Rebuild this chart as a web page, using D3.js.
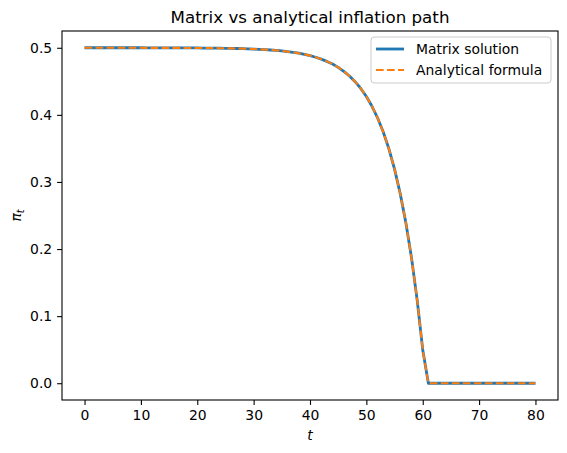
<!DOCTYPE html>
<meta charset="utf-8">
<style>
  body { margin: 0; padding: 0; background: #fff; }
  svg text { font-family: 'DejaVu Sans', sans-serif; fill: #000; }
  .axis text { font-size: 13.9px; }
  .axis path, .axis line { stroke: #000; stroke-width: 1.1px; }
</style>
<body>
<svg id="chart" width="567" height="453"></svg>
<script src="https://d3js.org/d3.v7.min.js"></script>
<script>

// time periods 0..80
var tValues = d3.range(0, 81);

// inflation path (t = 0 .. 80)
var matrixSolution = [
  0.5000, 0.5000, 0.5000, 0.5000, 0.5000, 0.5000, 0.5000, 0.5000, 0.5000, 0.5000,
  0.5000, 0.4999, 0.4999, 0.4999, 0.4999, 0.4999, 0.4998, 0.4998, 0.4997, 0.4997,
  0.4997, 0.4996, 0.4996, 0.4995, 0.4994, 0.4992, 0.4991, 0.4989, 0.4987, 0.4984,
  0.4981, 0.4977, 0.4973, 0.4967, 0.4961, 0.4953, 0.4943, 0.4932, 0.4919, 0.4902,
  0.4883, 0.4859, 0.4831, 0.4797, 0.4757, 0.4708, 0.4649, 0.4579, 0.4495, 0.4394,
  0.4273, 0.4128, 0.3953, 0.3744, 0.3493, 0.3192, 0.2830, 0.2396, 0.1875, 0.1250,
  0.0500, 0.0000, 0.0000, 0.0000, 0.0000, 0.0000, 0.0000, 0.0000, 0.0000, 0.0000,
  0.0000, 0.0000, 0.0000, 0.0000, 0.0000, 0.0000, 0.0000, 0.0000, 0.0000, 0.0000,
  0.0000
];
var analyticalFormula = matrixSolution.slice();

var xTicks = [0, 10, 20, 30, 40, 50, 60, 70, 80];
var yTicks = [0.0, 0.1, 0.2, 0.3, 0.4, 0.5];
var seriesNames = ["Matrix solution", "Analytical formula"];

var margin = {top: 31, right: 9, bottom: 53, left: 62};
var width = 567 - margin.left - margin.right;
var height = 453 - margin.top - margin.bottom;

var svg = d3.select("#chart");
var g = svg.append("g")
    .attr("transform", "translate(" + margin.left + "," + margin.top + ")");

var x = d3.scaleLinear().domain([-4, 84]).range([0, width]);
var y = d3.scaleLinear().domain([-0.025, 0.525]).range([height, 0]);

var xAxis = d3.axisBottom(x).tickValues(xTicks).tickSize(4.9).tickPadding(4.9)
    .tickFormat(d3.format("d"));
var yAxis = d3.axisLeft(y).tickValues(yTicks).tickSize(4.9).tickPadding(4.9)
    .tickFormat(d3.format(".1f"));

g.append("g").attr("class", "axis")
    .attr("transform", "translate(0," + height + ")")
    .call(xAxis)
    .call(function (s) { s.select(".domain").remove(); });
g.append("g").attr("class", "axis")
    .call(yAxis)
    .call(function (s) { s.select(".domain").remove(); });

var line = d3.line()
    .x(function (d, i) { return x(tValues[i]); })
    .y(function (d) { return y(d); });

g.append("path")
    .datum(matrixSolution)
    .attr("fill", "none")
    .attr("stroke", "#1f77b4")
    .attr("stroke-width", 2.8)
    .attr("stroke-linejoin", "round")
    .attr("d", line);

g.append("path")
    .datum(analyticalFormula)
    .attr("fill", "none")
    .attr("stroke", "#ff7f0e")
    .attr("stroke-width", 2.1)
    .attr("stroke-dasharray", "7.7,3.3")
    .attr("d", line);

// frame
g.append("rect")
    .attr("width", width).attr("height", height)
    .attr("fill", "none").attr("stroke", "#000").attr("stroke-width", 1.1);

// title and labels
svg.append("text")
    .attr("x", margin.left + width / 2).attr("y", 23)
    .attr("text-anchor", "middle")
    .style("font-size", "16.7px")
    .text("Matrix vs analytical inflation path");

svg.append("text")
    .attr("x", margin.left + width / 2).attr("y", 440)
    .attr("text-anchor", "middle")
    .style("font-size", "13.9px").style("font-style", "italic")
    .text("t");

var ylab = svg.append("text")
    .attr("transform", "translate(21," + (margin.top + height / 2) + ") rotate(-90)")
    .attr("text-anchor", "middle")
    .style("font-size", "13.9px");
ylab.append("tspan").style("font-style", "italic").text("π");
ylab.append("tspan").style("font-style", "italic").style("font-size", "9.7px")
    .attr("dy", 3).text("t");

// legend
var legend = g.append("g").attr("transform", "translate(" + (width - 187) + ",6)");
legend.append("rect")
    .attr("width", 180).attr("height", 46).attr("rx", 3)
    .attr("fill", "#fff").attr("fill-opacity", 0.8)
    .attr("stroke", "#cccccc").attr("stroke-width", 1);
var styles = [
  {color: "#1f77b4", w: 2.8, dash: null},
  {color: "#ff7f0e", w: 2.1, dash: "7.7,3.3"}
];
seriesNames.forEach(function (name, i) {
  var row = legend.append("g").attr("transform", "translate(0," + (12 + i * 21) + ")");
  row.append("line")
      .attr("x1", 5).attr("x2", 33).attr("y1", 0).attr("y2", 0)
      .attr("stroke", styles[i].color).attr("stroke-width", styles[i].w)
      .attr("stroke-dasharray", styles[i].dash);
  row.append("text")
      .attr("x", 45).attr("y", 5)
      .style("font-size", "13.9px")
      .text(name);
});

</script>
</body>
